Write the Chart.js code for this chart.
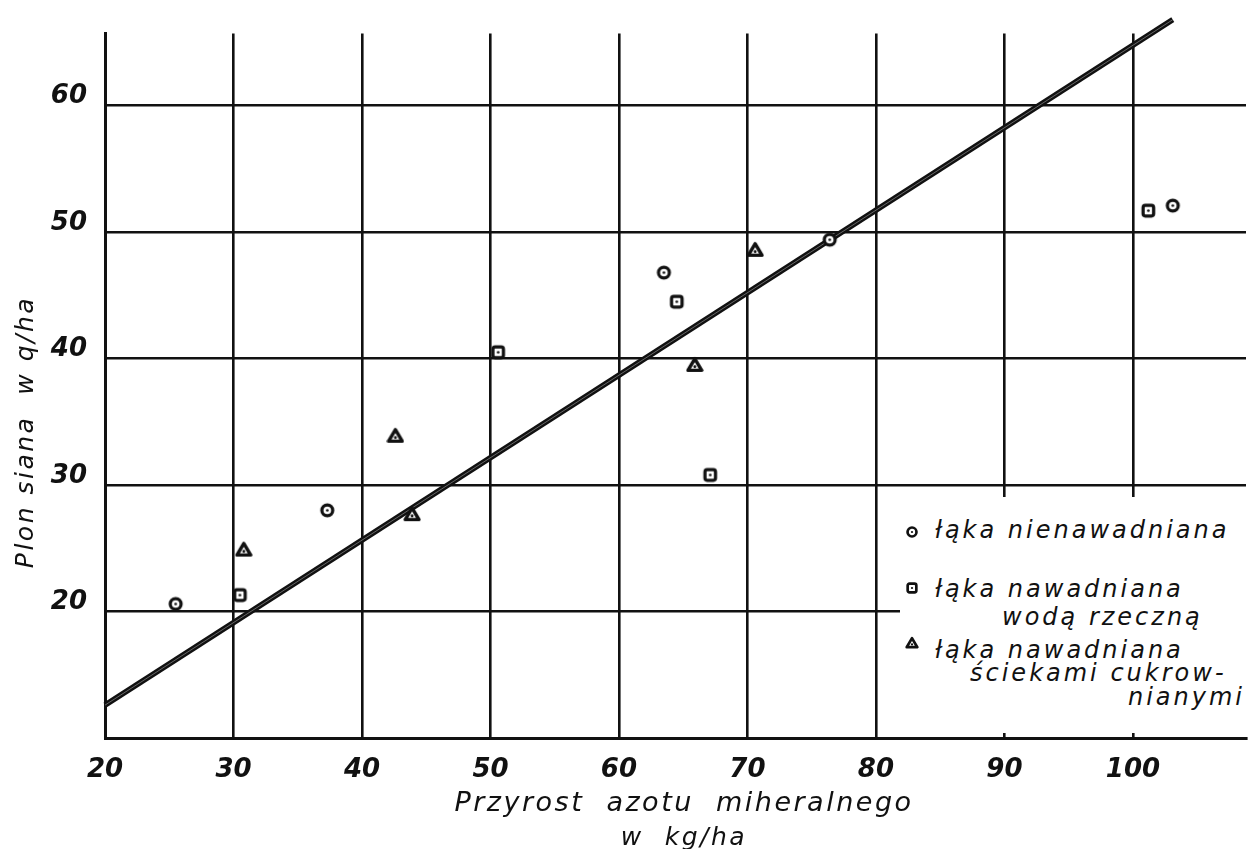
<!DOCTYPE html>
<html><head><meta charset="utf-8">
<script src="https://cdn.jsdelivr.net/npm/chart.js@4"></script>
<style>
html,body{margin:0;padding:0;background:#fff;}
#wrap{position:relative;width:1251px;height:849px;overflow:hidden;}
#c{position:absolute;left:0;top:0;}
.t{position:absolute;font-family:"DejaVu Sans";font-style:italic;color:#111;white-space:pre;line-height:30px;height:30px;}
#ytitle{left:-125px;top:417px;width:300px;text-align:center;font-size:25px;letter-spacing:2.5px;transform:rotate(-90deg);}
#xt1{left:384px;top:787px;width:600px;text-align:center;font-size:27px;letter-spacing:2.5px;}
#xt2{left:384px;top:822px;width:600px;text-align:center;font-size:25px;letter-spacing:2.5px;}
#legend{position:absolute;left:900px;top:497px;width:351px;height:236px;background:#fff;}
.lg{font-size:24px;letter-spacing:3px;}
.mk{position:absolute;}
</style>
</head><body>
<div id="wrap">
<canvas id="c" width="1251" height="849"></canvas>
<div id="ytitle" class="t">Plon siana  w q/ha</div>
<div id="xt1" class="t">Przyrost  azotu  miheralnego</div>
<div id="xt2" class="t">w  kg/ha</div>
<div id="legend"></div>
<div class="t lg" style="left:935px;top:515px;">łąka nienawadniana</div>
<div class="t lg" style="left:935px;top:574px;">łąka nawadniana</div>
<div class="t lg" style="left:1002px;top:602px;">wodą rzeczną</div>
<div class="t lg" style="left:935px;top:635px;">łąka nawadniana</div>
<div class="t lg" style="left:970px;top:658px;">ściekami cukrow-</div>
<div class="t lg" style="left:1000px;top:682px;width:245px;text-align:right;">nianymi</div>
</div>
<script>
// ---- data ----
const xTickLabels = [20, 30, 40, 50, 60, 70, 80, 90, 100];
const yTickLabels = [20, 30, 40, 50, 60];
const seriesNames = ['łąka nienawadniana', 'łąka nawadniana wodą rzeczną', 'łąka nawadniana ściekami cukrowniczymi'];
const nienawX = [25.5, 37.3, 63.5, 76.4, 103.1];
const nienawY = [20.6, 28.0, 46.8, 49.4, 52.1];
const rzecznaX = [30.5, 50.6, 64.5, 67.1, 101.2];
const rzecznaY = [21.3, 40.5, 44.5, 30.8, 51.7];
const sciekiX = [30.8, 42.6, 43.9, 65.9, 70.6];
const sciekiY = [24.9, 33.9, 27.7, 39.5, 48.6];
const lineX = [20, 103.1];
const lineY = [12.6, 66.8];

const pts = (xs, ys) => xs.map((x, i) => ({x: x, y: ys[i]}));

// ---- marker images ----
function mk(kind, s) {
  const c = document.createElement('canvas');
  c.width = s; c.height = s;
  const g = c.getContext('2d');
  const m = s / 2;
  g.lineWidth = s * 0.19; g.strokeStyle = '#111'; g.fillStyle = '#fff'; g.lineJoin = 'round';
  g.beginPath();
  if (kind === 'circle') {
    g.arc(m, m, s * 0.32, 0, Math.PI * 2);
  } else if (kind === 'square') {
    const h = s * 0.31;
    g.roundRect(m - h, m - h, 2 * h, 2 * h, s * 0.13);
  } else {
    g.moveTo(m, s * 0.16); g.lineTo(s * 0.88, s * 0.8); g.lineTo(s * 0.12, s * 0.8); g.closePath();
  }
  g.fill(); g.stroke();
  g.fillStyle = '#111';
  g.beginPath();
  g.arc(m, kind === 'tri' ? s * 0.6 : m, s * 0.08, 0, Math.PI * 2);
  g.fill();
  return c;
}
const imgC = mk('circle', 17), imgS = mk('square', 17), imgT = mk('tri', 18);
[[mk('circle', 14), 905, 525], [mk('square', 14), 905, 581], [mk('tri', 14), 905, 636]].forEach(([c, l, t]) => {
  c.className = 'mk'; c.style.left = l + 'px'; c.style.top = t + 'px';
  document.getElementById('wrap').appendChild(c);
});

const tickFont = {family: 'DejaVu Sans', size: 26, weight: 'bold', style: 'italic'};

new Chart(document.getElementById('c'), {
  type: 'scatter',
  data: {
    datasets: [
      {label: seriesNames[0], data: pts(nienawX, nienawY), pointStyle: imgC, order: -3},
      {label: seriesNames[1], data: pts(rzecznaX, rzecznaY), pointStyle: imgS, order: -2},
      {label: seriesNames[2], data: pts(sciekiX, sciekiY), pointStyle: imgT, order: -1},
      {type: 'line', label: 'r1', data: pts(lineX, lineY), borderColor: 'rgba(255,255,255,0.45)', borderWidth: 0.8, pointRadius: 0, clip: false, order: 0},
      {type: 'line', label: 'r0', data: pts(lineX, lineY), borderColor: '#111', borderWidth: 5.5, pointRadius: 0, clip: false, order: 1}
    ]
  },
  options: {
    responsive: false, animation: false,
    layout: {padding: {top: 30, right: 0, left: 0, bottom: 0}},
    plugins: {legend: {display: false}, tooltip: {enabled: false}},
    scales: {
      x: {
        type: 'linear', min: 20, max: 108.8,
        afterBuildTicks: s => { s.ticks = xTickLabels.map(v => ({value: v})); },
        afterFit: s => { s.height = 111; },
        grid: {color: '#111', lineWidth: 2.6, drawTicks: false},
        border: {color: '#111', width: 3},
        ticks: {font: tickFont, color: '#111', padding: 17, maxRotation: 0, autoSkip: false}
      },
      y: {
        type: 'linear', min: 10, max: 65.7,
        afterBuildTicks: s => { s.ticks = yTickLabels.map(v => ({value: v})); },
        afterFit: s => { s.width = 105; },
        grid: {color: '#111', lineWidth: 2.6, drawTicks: false},
        border: {color: '#111', width: 3},
        ticks: {font: tickFont, color: '#111', padding: 18, labelOffset: -9}
      }
    }
  }
});
</script>
</body></html>
